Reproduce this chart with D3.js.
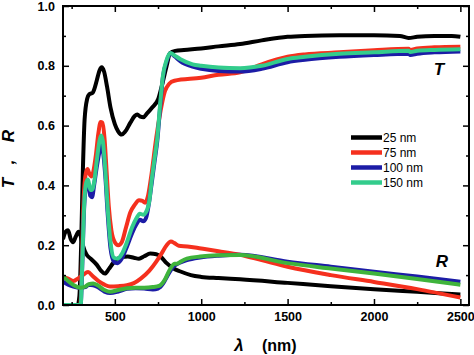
<!DOCTYPE html>
<html><head><meta charset="utf-8">
<script src="https://cdn.jsdelivr.net/npm/d3@7"></script>
<style>
html,body{margin:0;padding:0;background:#fff;}
svg{display:block;}
text{font-family:"Liberation Sans",Arial,sans-serif;}
</style></head>
<body>
<svg id="chart" width="474" height="355"></svg>
<script>
// ---- data ----
const seriesNames = ["25 nm", "75 nm", "100 nm", "150 nm"];
const colorsT = ["#000000", "#f5301e", "#1c1ca6", "#33cc8c"];
const colorsR = ["#000000", "#f5301e", "#1c1ca6", "#3fb43c"];

const xMajor = [500, 1000, 1500, 2000, 2500];
const xMinor = [250, 750, 1250, 1750, 2250];
const yMajor = [0, 0.2, 0.4, 0.6, 0.8, 1.0];
const yMinor = [0.1, 0.3, 0.5, 0.7, 0.9];

// Transmittance T
const wlT25 = [200,285,295,305,315,325,340,352,372,380,395,412,424,438,455,475,500,520,540,560,590,615,630,648,665,685,715,752,775,800,820,850,900,1000,1100,1225,1350,1500,1600,1800,2000,2150,2200,2250,2350,2450,2500];
const T25   = [0,0,0.03,0.2,0.45,0.62,0.69,0.705,0.71,0.72,0.75,0.785,0.795,0.78,0.73,0.66,0.605,0.58,0.57,0.58,0.61,0.632,0.637,0.63,0.628,0.64,0.66,0.69,0.74,0.8,0.843,0.85,0.853,0.858,0.865,0.873,0.885,0.897,0.9,0.902,0.902,0.9,0.893,0.897,0.9,0.9,0.897];

const wlT75 = [200,300,310,320,332,342,352,362,375,390,405,418,428,440,452,465,480,500,520,540,565,590,615,640,660,675,690,708,740,765,790,815,845,1000,1100,1225,1350,1500,1600,1800,2000,2200,2210,2250,2350,2500];
const T75   = [0,0,0.15,0.36,0.44,0.455,0.44,0.43,0.445,0.5,0.575,0.612,0.61,0.56,0.45,0.33,0.25,0.21,0.2,0.21,0.26,0.31,0.335,0.35,0.348,0.342,0.36,0.42,0.56,0.65,0.715,0.74,0.75,0.76,0.77,0.778,0.805,0.83,0.838,0.845,0.852,0.857,0.853,0.858,0.862,0.864];

const wlT100 = [200,302,312,322,335,345,358,368,380,395,410,420,430,445,458,475,495,515,540,570,600,625,645,665,680,700,714,730,746,762,778,800,822,845,880,950,1000,1100,1225,1350,1500,1600,1800,2000,2200,2210,2250,2350,2500];
const T100   = [0,0,0.14,0.32,0.4,0.405,0.365,0.36,0.4,0.46,0.51,0.535,0.52,0.43,0.31,0.19,0.145,0.14,0.155,0.195,0.24,0.27,0.285,0.28,0.29,0.35,0.41,0.48,0.55,0.66,0.76,0.815,0.842,0.832,0.815,0.797,0.79,0.783,0.781,0.79,0.812,0.82,0.83,0.836,0.84,0.836,0.84,0.845,0.848];

const wlT150 = [200,302,312,322,335,345,358,368,380,395,410,420,430,445,458,475,495,515,540,570,600,625,645,665,680,700,714,730,746,762,778,800,822,845,880,950,1000,1100,1225,1350,1500,1600,1800,2000,2200,2210,2250,2350,2500];
const T150   = [0,0,0.15,0.33,0.41,0.42,0.385,0.385,0.41,0.48,0.545,0.567,0.55,0.45,0.33,0.21,0.158,0.155,0.17,0.21,0.26,0.29,0.305,0.302,0.31,0.35,0.42,0.49,0.56,0.67,0.765,0.82,0.843,0.835,0.822,0.805,0.8,0.794,0.792,0.8,0.823,0.83,0.84,0.845,0.85,0.846,0.85,0.853,0.855];

// Reflectance R
const wlR25 = [200,215,229,245,258,275,290,300,315,335,360,395,420,443,465,490,511,540,575,610,640,670,705,740,765,800,840,880,940,1000,1100,1225,1500,1750,2000,2250,2500];
const R25   = [0.22,0.245,0.25,0.22,0.21,0.23,0.245,0.235,0.2,0.17,0.155,0.135,0.115,0.105,0.12,0.14,0.153,0.16,0.162,0.158,0.155,0.163,0.172,0.17,0.162,0.14,0.122,0.112,0.1,0.094,0.09,0.086,0.074,0.063,0.053,0.044,0.035];

const wlR75 = [200,230,260,290,315,345,370,410,440,472,520,570,610,650,700,740,770,800,825,845,870,920,1000,1100,1225,1350,1500,1750,2000,2250,2500];
const R75   = [0.094,0.088,0.08,0.09,0.1,0.11,0.098,0.078,0.068,0.062,0.063,0.066,0.073,0.088,0.115,0.145,0.172,0.2,0.212,0.207,0.198,0.196,0.189,0.18,0.168,0.15,0.128,0.1,0.077,0.053,0.025];

const wlR100 = [200,230,260,300,330,350,375,400,440,472,520,570,620,670,720,750,780,801,839,880,917,994,1100,1225,1500,1750,2000,2250,2500];
const R100   = [0.078,0.068,0.062,0.058,0.06,0.068,0.066,0.06,0.045,0.04,0.045,0.054,0.056,0.055,0.052,0.055,0.072,0.094,0.128,0.142,0.15,0.159,0.165,0.168,0.145,0.128,0.111,0.095,0.078];

const wlR150 = [200,230,260,300,330,350,375,400,440,472,520,570,620,670,720,760,790,815,835,845,860,880,917,994,1100,1225,1500,1750,2000,2250,2500];
const R150   = [0.097,0.08,0.067,0.058,0.062,0.07,0.072,0.066,0.05,0.044,0.05,0.056,0.058,0.058,0.06,0.065,0.085,0.115,0.133,0.138,0.138,0.145,0.155,0.162,0.166,0.167,0.14,0.122,0.105,0.087,0.068];

// ---- drawing ----
const svg = d3.select("#chart");
const x = d3.scaleLinear().domain([200, 2550]).range([63, 469]);
const y = d3.scaleLinear().domain([0, 1]).range([305, 6]);

const clip = svg.append("defs").append("clipPath").attr("id","plotclip")
  .append("rect").attr("x",63).attr("y",6).attr("width",406).attr("height",299);

const line = d3.line().x(d => x(d[0])).y(d => y(d[1])).curve(d3.curveMonotoneX);
const zip = (a, b) => a.map((v, i) => [v, b[i]]);

const plot = svg.append("g").attr("clip-path","url(#plotclip)");
const Tsets = [[wlT25,T25],[wlT75,T75],[wlT100,T100],[wlT150,T150]];
const Rsets = [[wlR25,R25],[wlR75,R75],[wlR100,R100],[wlR150,R150]];
for (let i = 0; i < 4; i++) {
  plot.append("path").datum(zip(Tsets[i][0], Tsets[i][1]))
    .attr("d", line).attr("fill","none").attr("stroke", colorsT[i])
    .attr("stroke-width", 4).attr("stroke-linejoin","round");
  plot.append("path").datum(zip(Rsets[i][0], Rsets[i][1]))
    .attr("d", line).attr("fill","none").attr("stroke", colorsR[i])
    .attr("stroke-width", 4).attr("stroke-linejoin","round");
}

// axes
const fontTick = "bold 12.5px 'Liberation Sans', Arial, sans-serif";
function styleAxis(g){ g.select(".domain").remove(); g.selectAll("line").attr("stroke","#000").attr("stroke-width",1.5); g.selectAll("text").style("font", fontTick).attr("fill","#000"); }

svg.append("g").attr("transform","translate(0,305)")
  .call(d3.axisBottom(x).tickValues(xMajor).tickSize(-6).tickPadding(7).tickFormat(d3.format("d"))).call(styleAxis);
svg.append("g").attr("transform","translate(0,305)")
  .call(d3.axisBottom(x).tickValues(xMinor).tickSize(-3).tickFormat("")).call(styleAxis);
svg.append("g").attr("transform","translate(0,6)")
  .call(d3.axisTop(x).tickValues(xMajor).tickSize(-6).tickFormat("")).call(styleAxis);
svg.append("g").attr("transform","translate(0,6)")
  .call(d3.axisTop(x).tickValues(xMinor).tickSize(-3).tickFormat("")).call(styleAxis);
svg.append("g").attr("transform","translate(63,0)")
  .call(d3.axisLeft(y).tickValues(yMajor).tickSize(-6).tickPadding(8).tickFormat(d3.format(".1f"))).call(styleAxis);
svg.append("g").attr("transform","translate(63,0)")
  .call(d3.axisLeft(y).tickValues(yMinor).tickSize(-3).tickFormat("")).call(styleAxis);
svg.append("g").attr("transform","translate(469,0)")
  .call(d3.axisRight(y).tickValues(yMajor).tickSize(-6).tickFormat("")).call(styleAxis);
svg.append("g").attr("transform","translate(469,0)")
  .call(d3.axisRight(y).tickValues(yMinor).tickSize(-3).tickFormat("")).call(styleAxis);

svg.append("rect").attr("x",63).attr("y",6).attr("width",406).attr("height",299)
  .attr("fill","none").attr("stroke","#000").attr("stroke-width",2);

// legend
const lg = svg.append("g");
seriesNames.forEach((n, i) => {
  const yy = 137.5 + i * 15;
  lg.append("line").attr("x1",351).attr("x2",382).attr("y1",yy).attr("y2",yy)
    .attr("stroke", colorsT[i]).attr("stroke-width",4.5);
  lg.append("text").attr("x",383).attr("y",yy+4.3).text(n)
    .style("font","12px 'Liberation Sans', Arial, sans-serif").attr("fill","#000");
});

// curve labels
svg.append("text").attr("x",439).attr("y",75).attr("text-anchor","middle").text("T")
  .style("font","italic bold 17px 'Liberation Sans', Arial, sans-serif");
svg.append("text").attr("x",442).attr("y",267).attr("text-anchor","middle").text("R")
  .style("font","italic bold 17px 'Liberation Sans', Arial, sans-serif");

// axis titles
const yt = svg.append("g").attr("transform","translate(14,158) rotate(-90)");
yt.append("text").attr("x",-25).attr("y",0).attr("text-anchor","middle").text("T")
  .style("font","italic bold 17px 'Liberation Sans', Arial, sans-serif");
yt.append("text").attr("x",-4).attr("y",0).attr("text-anchor","middle").text(",")
  .style("font","italic bold 17px 'Liberation Sans', Arial, sans-serif");
yt.append("text").attr("x",22).attr("y",0).attr("text-anchor","middle").text("R")
  .style("font","italic bold 17px 'Liberation Sans', Arial, sans-serif");

svg.append("text").attr("x",239).attr("y",351).attr("text-anchor","middle").text("λ")
  .style("font","italic bold 17px 'Liberation Sans', Arial, sans-serif");
svg.append("text").attr("x",262).attr("y",351).text("(nm)")
  .style("font","bold 16px 'Liberation Sans', Arial, sans-serif");
</script>
</body></html>
